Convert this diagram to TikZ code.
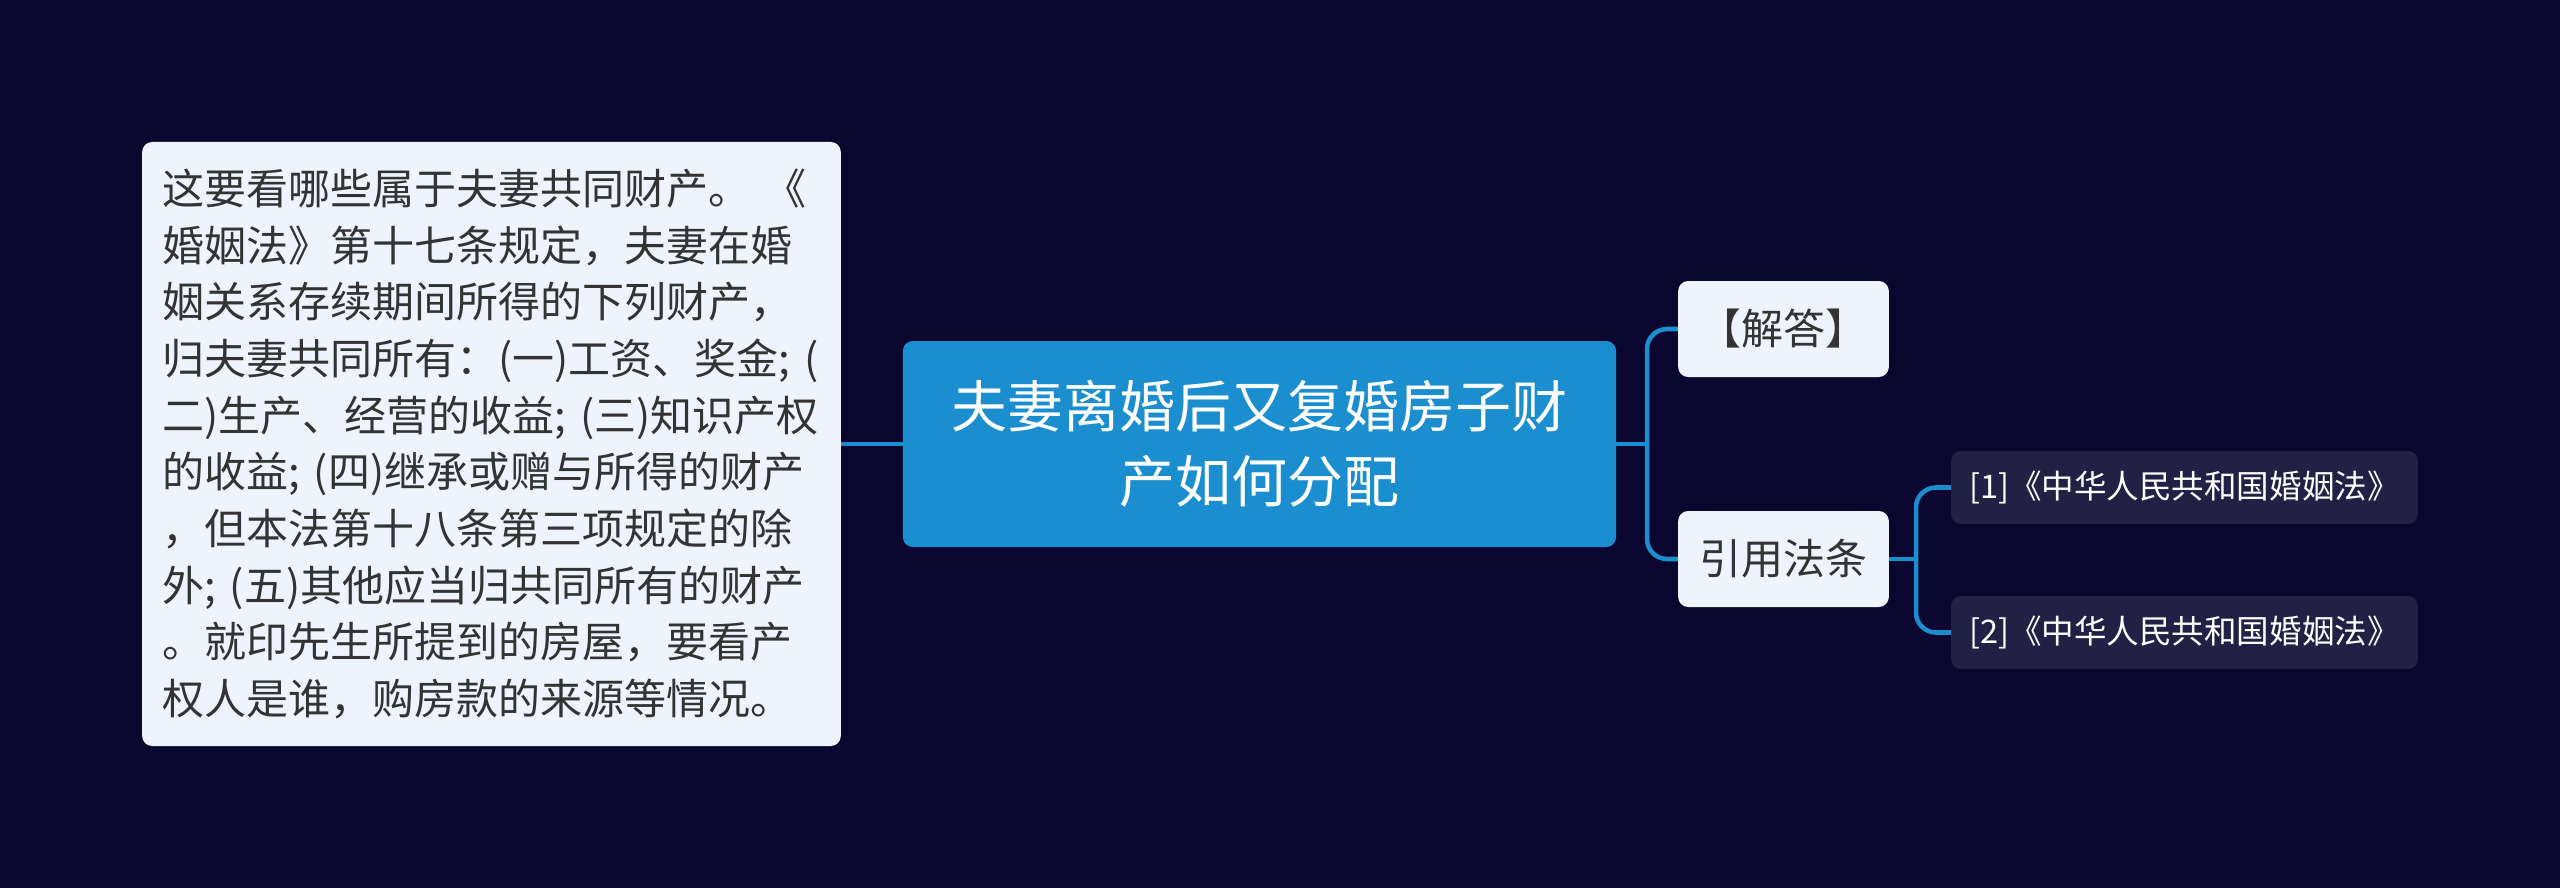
\documentclass[tikz,border=0pt]{standalone}
\usepackage{fontspec}
\setmainfont{Noto Sans CJK SC}
\definecolor{bg}{HTML}{0A0630}
\definecolor{lk}{HTML}{1B8ED0}
\definecolor{lightbox}{HTML}{EEF3FD}
\definecolor{darkbox}{HTML}{232046}
\definecolor{txt}{HTML}{333333}
\tikzset{
  conn/.style={draw=lk, line width=3.4pt},
  lightnode/.style={fill=lightbox, rounded corners=7.5pt, text=txt, inner sep=0pt,
    font=\fontsize{31.5pt}{42.5pt}\selectfont},
  mainnode/.style={fill=lk, rounded corners=7.5pt, text=white, inner sep=0pt,
    align=center, font=\fontsize{42pt}{56pt}\selectfont,
    minimum width=535pt, minimum height=154.5pt},
  subnode/.style={lightnode, minimum width=158pt, minimum height=72pt},
  citenode/.style={fill=darkbox, rounded corners=7.5pt, text=white, inner sep=0pt,
    font=\fontsize{24.4pt}{30pt}\selectfont, minimum width=350pt, minimum height=55pt,
    text width=323pt, align=left}
}
\begin{document}
\begin{tikzpicture}[x=0.75pt,y=-0.75pt]
\fill[bg] (0,0) rectangle (2560,888);
\useasboundingbox (0,0) rectangle (2560,888);

\node[lightnode, minimum width=524pt, minimum height=453pt, text width=494pt, align=left] (left) at (491.5,444)
{这要看哪些属于夫妻共同财产。 《\\
婚姻法》第十七条规定，夫妻在婚\\
姻关系存续期间所得的下列财产，\\
归夫妻共同所有：(一)工资、奖金; (\\
二)生产、经营的收益; (三)知识产权\\
的收益; (四)继承或赠与所得的财产\\
，但本法第十八条第三项规定的除\\
外; (五)其他应当归共同所有的财产\\
。就印先生所提到的房屋，要看产\\
权人是谁，购房款的来源等情况。};

\node[mainnode] (main) at (1259.5,444) {夫妻离婚后又复婚房子财\\产如何分配};

\node[subnode] (ans) at (1783.5,329) {【解答】};
\node[subnode] (cite) at (1783.5,559) {引用法条};

\node[citenode] (c1) at (2184.5,487.5) {[1]《中华人民共和国婚姻法》};
\node[citenode] (c2) at (2184.5,632.5) {[2]《中华人民共和国婚姻法》};

\coordinate (j1) at (1647,444);
\coordinate (j2) at (1916,559);

\draw[conn] (left.east) -- (main.west);
\draw[conn] (main.east) -- (j1);
\draw[conn, rounded corners=15pt] (ans.west) -| (j1);
\draw[conn, rounded corners=15pt] (cite.west) -| (j1);
\draw[conn] (cite.east) -- (j2);
\draw[conn, rounded corners=15pt] (c1.west) -| (j2);
\draw[conn, rounded corners=15pt] (c2.west) -| (j2);
\end{tikzpicture}
\end{document}
